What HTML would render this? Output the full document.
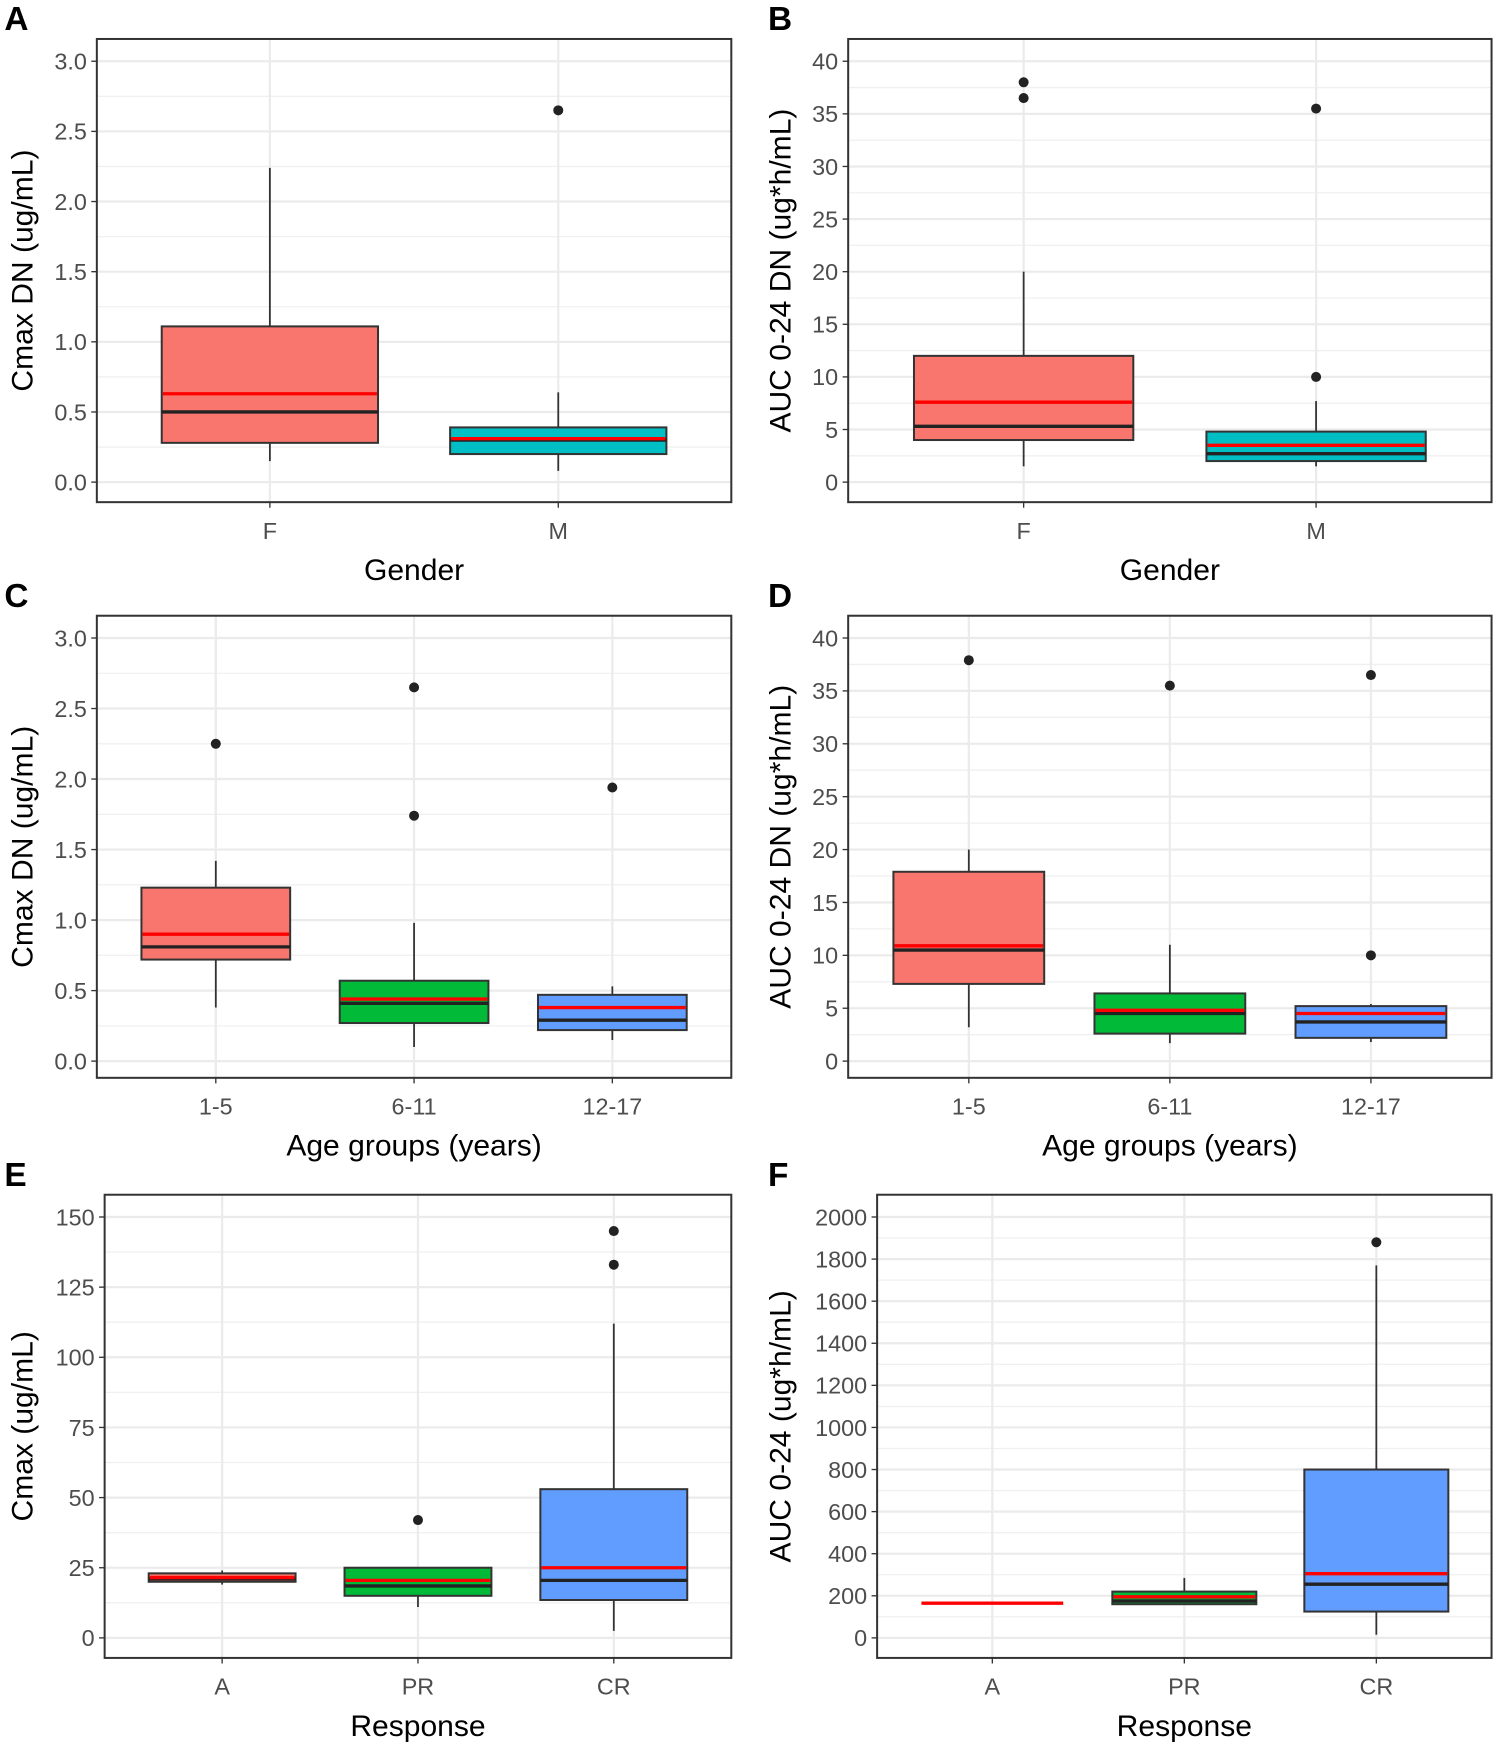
<!DOCTYPE html>
<html><head><meta charset="utf-8"><style>
html,body{margin:0;padding:0;background:#fff}
svg{display:block}
.tick{font-family:"Liberation Sans",sans-serif;font-size:21px;fill:#4d4d4d}
.title{font-family:"Liberation Sans",sans-serif;font-size:27px;fill:#000}
.letter{font-family:"Liberation Sans",sans-serif;font-size:30px;font-weight:bold;fill:#000}
</style></head><body>
<svg id="fig" width="1496" height="1747" viewBox="0 0 1344 1569" preserveAspectRatio="none" xmlns="http://www.w3.org/2000/svg"></svg>
<script>
// ---- data (top level) ----
const catsGender = ["F","M"];
const catsAge = ["1-5","6-11","12-17"];
const catsResp = ["A","PR","CR"];
const fillsGender = ["#F8766D","#00BFC4"];
const fills3 = ["#F8766D","#00BA38","#619CFF"];

// [lower whisker, q1, median, q3, upper whisker]
const statsA = [[0.15,0.28,0.50,1.11,2.24],[0.08,0.20,0.30,0.39,0.64]];
const meansA = [0.63,0.31];
const outA = [[],[2.65]];

const statsB = [[1.5,4.0,5.3,12.0,20.0],[1.5,2.0,2.7,4.8,7.7]];
const meansB = [7.6,3.5];
const outB = [[36.5,38.0],[10.0,35.5]];

const statsC = [[0.38,0.72,0.81,1.23,1.42],[0.10,0.27,0.41,0.57,0.98],[0.15,0.22,0.29,0.47,0.53]];
const meansC = [0.90,0.44,0.38];
const outC = [[2.25],[1.74,2.65],[1.94]];

const statsD = [[3.2,7.3,10.5,17.9,20.0],[1.7,2.6,4.5,6.4,11.0],[1.8,2.2,3.7,5.2,5.4]];
const meansD = [10.9,4.8,4.5];
const outD = [[37.9],[35.5],[10.0,36.5]];

const statsE = [[19,20,21,23,24],[11,15,18.5,25,25],[2.5,13.5,20.5,53,112]];
const meansE = [21.5,20.5,25];
const outE = [[],[42],[133,145]];

const statsF = [[165,165,165,165,165],[160,160,175,220,285],[15,125,255,800,1770]];
const meansF = [165,195,305];
const outF = [[],[],[1880]];

const ticksA = [0,0.5,1,1.5,2,2.5,3];
const ticksB = [0,5,10,15,20,25,30,35,40];
const ticksE = [0,25,50,75,100,125,150];
const ticksF = [0,200,400,600,800,1000,1200,1400,1600,1800,2000];

const NS = "http://www.w3.org/2000/svg";
const svg = document.getElementById("fig");
function mk(tag, attrs, parent, txt){
  const e = document.createElementNS(NS, tag);
  for (const k in attrs) e.setAttribute(k, attrs[k]);
  if (txt !== undefined) e.textContent = txt;
  (parent||svg).appendChild(e);
  return e;
}

function panel(o){
  const g = mk("g", {});
  
  
  const L=o.x0, R=o.x1, T=o.y0, B=o.y1;
  const vmin=o.ticks[0], vmax=o.ticks[o.ticks.length-1];
  const y = v => o.zeroY + (v - vmin)/(vmax - vmin)*(o.topY - o.zeroY);
  const n = o.cats.length;
  const step = (R-L)/(n+0.2);
  const x = i => L + step*(0.6 + i);
  const bw = step*0.75;
  mk("rect",{x:L,y:T,width:R-L,height:B-T,fill:"#fff"},g);
  for (let i=0;i<o.ticks.length-1;i++){
    const yy = y((o.ticks[i]+o.ticks[i+1])/2);
    mk("line",{x1:L,x2:R,y1:yy,y2:yy,stroke:"#f0f0f0","stroke-width":1.2},g);
  }
  const lyb = y(vmin - (o.ticks[1]-o.ticks[0])/2);
  if (lyb < B) mk("line",{x1:L,x2:R,y1:lyb,y2:lyb,stroke:"#f0f0f0","stroke-width":1.2},g);
  o.ticks.forEach(t=>{
    const yy=y(t);
    mk("line",{x1:L,x2:R,y1:yy,y2:yy,stroke:"#ebebeb","stroke-width":2},g);
    mk("line",{x1:L-5,x2:L,y1:yy,y2:yy,stroke:"#333","stroke-width":1.2},g);
    const lab = mk("text",{x:L-9,y:yy+7.5,"text-anchor":"end",class:"tick"},g,o.fmt(t));
    
    
  });
  o.cats.forEach((c,i)=>{
    const xx=x(i);
    mk("line",{x1:xx,x2:xx,y1:T,y2:B,stroke:"#ebebeb","stroke-width":2},g);
    mk("line",{x1:xx,x2:xx,y1:B,y2:B+5,stroke:"#333","stroke-width":1.2},g);
    const lab = mk("text",{x:xx,y:B+33,"text-anchor":"middle",class:"tick"},g,c);
    
    
  });
  o.cats.forEach((c,i)=>{
    const s=o.stats[i], xx=x(i);
    const bg = mk("g",{},g);
    
    
    mk("line",{x1:xx,x2:xx,y1:y(s[0]),y2:y(s[1]),stroke:"#333","stroke-width":1.6},bg);
    mk("line",{x1:xx,x2:xx,y1:y(s[3]),y2:y(s[4]),stroke:"#333","stroke-width":1.6},bg);
    if (s[3] > s[1]) {
      mk("rect",{x:xx-bw/2,y:y(s[3]),width:bw,height:y(s[1])-y(s[3]),fill:o.fills[i],stroke:"#333","stroke-width":1.8},bg);
      mk("line",{x1:xx-bw/2,x2:xx+bw/2,y1:y(s[2]),y2:y(s[2]),stroke:"#222","stroke-width":3},bg);
    }
    mk("line",{x1:xx-bw/2+1,x2:xx+bw/2-1,y1:y(o.means[i]),y2:y(o.means[i]),stroke:"#ff0000","stroke-width":3},bg);
    o.outs[i].forEach(v=>{
      const p = mk("circle",{cx:xx,cy:y(v),r:4.5,fill:"#222"},bg);
      
      
    });
  });
  mk("rect",{x:L,y:T,width:R-L,height:B-T,fill:"none",stroke:"#333","stroke-width":1.8},g);
  const yt = mk("text",{x:0,y:0,"text-anchor":"middle",class:"title",transform:`translate(${o.ytx},${(T+B)/2}) rotate(-90)`},g,o.ytitle);
  
  
  const xt = mk("text",{x:(L+R)/2,y:B+70,"text-anchor":"middle",class:"title"},g,o.xtitle);
  
  
  const lt = mk("text",{x:o.lx,y:T-8,class:"letter"},g,o.letter);
  
  
}
const f1 = t=>t.toFixed(1), f0 = t=>String(t);
panel({letter:"A",lx:4,x0:87,x1:657,y0:35,y1:451,zeroY:433,topY:55,ticks:ticksA,fmt:f1,cats:catsGender,fills:fillsGender,stats:statsA,means:meansA,outs:outA,ytitle:"Cmax DN (ug/mL)",ytx:29,xtitle:"Gender"});
panel({letter:"B",lx:690,x0:762,x1:1340,y0:35,y1:451,zeroY:433,topY:55,ticks:ticksB,fmt:f0,cats:catsGender,fills:fillsGender,stats:statsB,means:meansB,outs:outB,ytitle:"AUC 0-24 DN (ug*h/mL)",ytx:710,xtitle:"Gender"});
panel({letter:"C",lx:4,x0:87,x1:657,y0:553,y1:968,zeroY:953,topY:573,ticks:ticksA,fmt:f1,cats:catsAge,fills:fills3,stats:statsC,means:meansC,outs:outC,ytitle:"Cmax DN (ug/mL)",ytx:29,xtitle:"Age groups (years)"});
panel({letter:"D",lx:690,x0:762,x1:1340,y0:553,y1:968,zeroY:953,topY:573,ticks:ticksB,fmt:f0,cats:catsAge,fills:fills3,stats:statsD,means:meansD,outs:outD,ytitle:"AUC 0-24 DN (ug*h/mL)",ytx:710,xtitle:"Age groups (years)"});
panel({letter:"E",lx:4,x0:94,x1:657,y0:1073,y1:1489,zeroY:1471,topY:1093,ticks:ticksE,fmt:f0,cats:catsResp,fills:fills3,stats:statsE,means:meansE,outs:outE,ytitle:"Cmax (ug/mL)",ytx:29,xtitle:"Response"});
panel({letter:"F",lx:690,x0:788,x1:1340,y0:1073,y1:1489,zeroY:1471,topY:1093,ticks:ticksF,fmt:f0,cats:catsResp,fills:fills3,stats:statsF,means:meansF,outs:outF,ytitle:"AUC 0-24 (ug*h/mL)",ytx:710,xtitle:"Response"});
</script>
</body></html>
